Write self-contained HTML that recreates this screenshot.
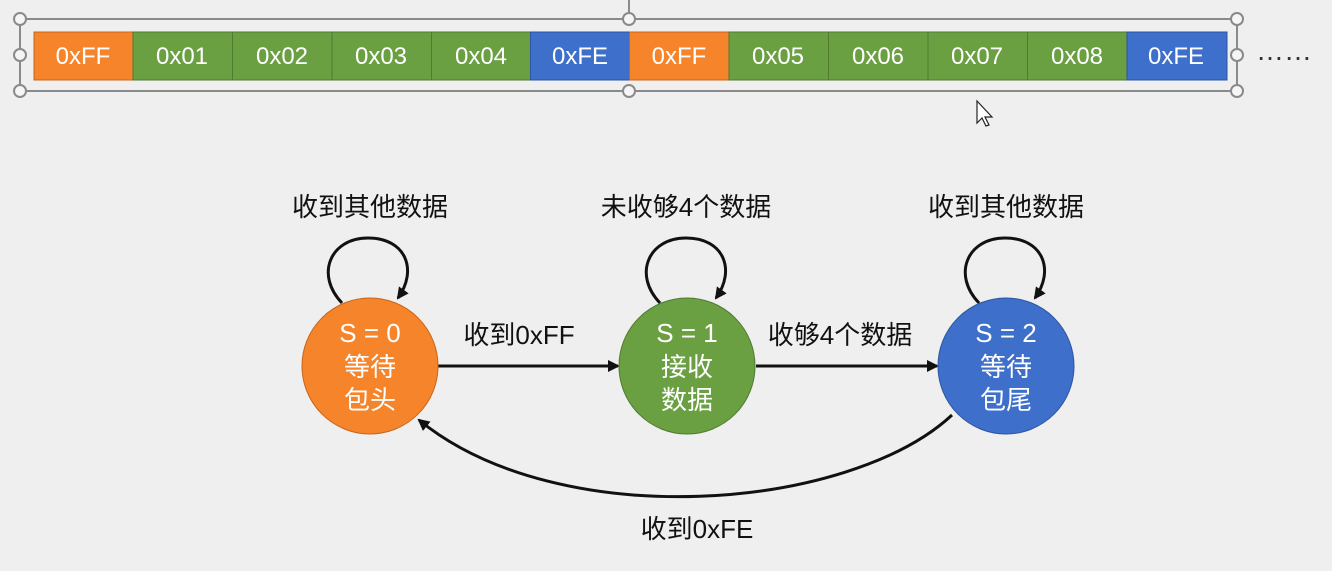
<!DOCTYPE html>
<html><head><meta charset="utf-8"><style>
body{margin:0;background:#efefef;}
svg{display:block;font-family:"Liberation Sans","Noto Sans CJK SC",sans-serif;}
</style></head><body>
<svg width="1332" height="571" viewBox="0 0 1332 571">
<rect width="1332" height="571" fill="#efefef"/>
<g stroke="#8a8a8a" stroke-width="2" fill="none">
<line x1="629" y1="0" x2="629" y2="19"/>
<rect x="20" y="19" width="1217" height="72"/>
</g>
<g stroke="#4f7a30" stroke-width="1">
<rect x="34" y="32" width="99" height="48" fill="#f5842b" stroke="#c8651a"/>
<rect x="133" y="32" width="99.5" height="48" fill="#6aa042"/>
<rect x="232.5" y="32" width="99.5" height="48" fill="#6aa042"/>
<rect x="332" y="32" width="99.5" height="48" fill="#6aa042"/>
<rect x="431.5" y="32" width="99" height="48" fill="#6aa042"/>
<rect x="530.5" y="32" width="99" height="48" fill="#3d6fcb" stroke="#2d55a0"/>
<rect x="629.5" y="32" width="99.5" height="48" fill="#f5842b" stroke="#c8651a"/>
<rect x="729" y="32" width="99.5" height="48" fill="#6aa042"/>
<rect x="828.5" y="32" width="99.5" height="48" fill="#6aa042"/>
<rect x="928" y="32" width="99.5" height="48" fill="#6aa042"/>
<rect x="1027.5" y="32" width="99.5" height="48" fill="#6aa042"/>
<rect x="1127" y="32" width="100" height="48" fill="#3d6fcb" stroke="#2d55a0"/>
</g>
<g font-size="24" fill="#fff" text-anchor="middle">
<text x="83" y="64">0xFF</text><text x="182" y="64">0x01</text><text x="282" y="64">0x02</text>
<text x="381" y="64">0x03</text><text x="481" y="64">0x04</text><text x="580" y="64">0xFE</text>
<text x="679" y="64">0xFF</text><text x="778" y="64">0x05</text><text x="878" y="64">0x06</text>
<text x="977" y="64">0x07</text><text x="1077" y="64">0x08</text><text x="1176" y="64">0xFE</text>
</g>
<g fill="#f5f5f5" stroke="#8a8a8a" stroke-width="2">
<circle cx="20" cy="19" r="6"/><circle cx="629" cy="19" r="6"/><circle cx="1237" cy="19" r="6"/>
<circle cx="20" cy="55" r="6"/><circle cx="1237" cy="55" r="6"/>
<circle cx="20" cy="91" r="6"/><circle cx="629" cy="91" r="6"/><circle cx="1237" cy="91" r="6"/>
</g>
<text x="1256" y="60" font-size="28" fill="#333">……</text>
<defs><marker id="a" markerWidth="12" markerHeight="12" refX="10" refY="6" orient="auto" markerUnits="userSpaceOnUse"><path d="M0,0 L12,6 L0,12 z" fill="#111"/></marker></defs>
<g stroke="#111" stroke-width="3" fill="none">
<path d="M342,303 C315,275 330,238 368,238 C406,238 418,270 398,298" marker-end="url(#a)"/>
<path d="M660,303 C633,275 648,238 686,238 C724,238 736,270 716,298" marker-end="url(#a)"/>
<path d="M979,303 C952,275 967,238 1005,238 C1043,238 1055,270 1035,298" marker-end="url(#a)"/>
<line x1="438" y1="366" x2="618" y2="366" marker-end="url(#a)"/>
<line x1="756" y1="366" x2="937" y2="366" marker-end="url(#a)"/>
<path d="M952,415 C850,510 560,535 419,420" marker-end="url(#a)"/>
</g>
<circle cx="370" cy="366" r="68" fill="#f5842b" stroke="#c8651a"/>
<circle cx="687" cy="366" r="68" fill="#6aa042" stroke="#4f7a30"/>
<circle cx="1006" cy="366" r="68" fill="#3d6fcb" stroke="#2d55a0"/>
<g font-size="26" fill="#fff" text-anchor="middle">
<text x="370" y="342">S = 0</text><text x="370" y="376">等待</text><text x="370" y="409">包头</text>
<text x="687" y="342">S = 1</text><text x="687" y="376">接收</text><text x="687" y="409">数据</text>
<text x="1006" y="342">S = 2</text><text x="1006" y="376">等待</text><text x="1006" y="409">包尾</text>
</g>
<g font-size="26" fill="#111" text-anchor="middle">
<text x="370" y="216">收到其他数据</text>
<text x="686" y="216">未收够4个数据</text>
<text x="1006" y="216">收到其他数据</text>
<text x="519" y="344">收到0xFF</text>
<text x="840" y="344">收够4个数据</text>
<text x="697" y="538">收到0xFE</text>
</g>
<path d="M977,101 L977,123 L982,118 L986,126 L989,125 L985,117 L992,117 Z" fill="#fff" stroke="#222" stroke-width="1.2"/>
</svg>
</body></html>
